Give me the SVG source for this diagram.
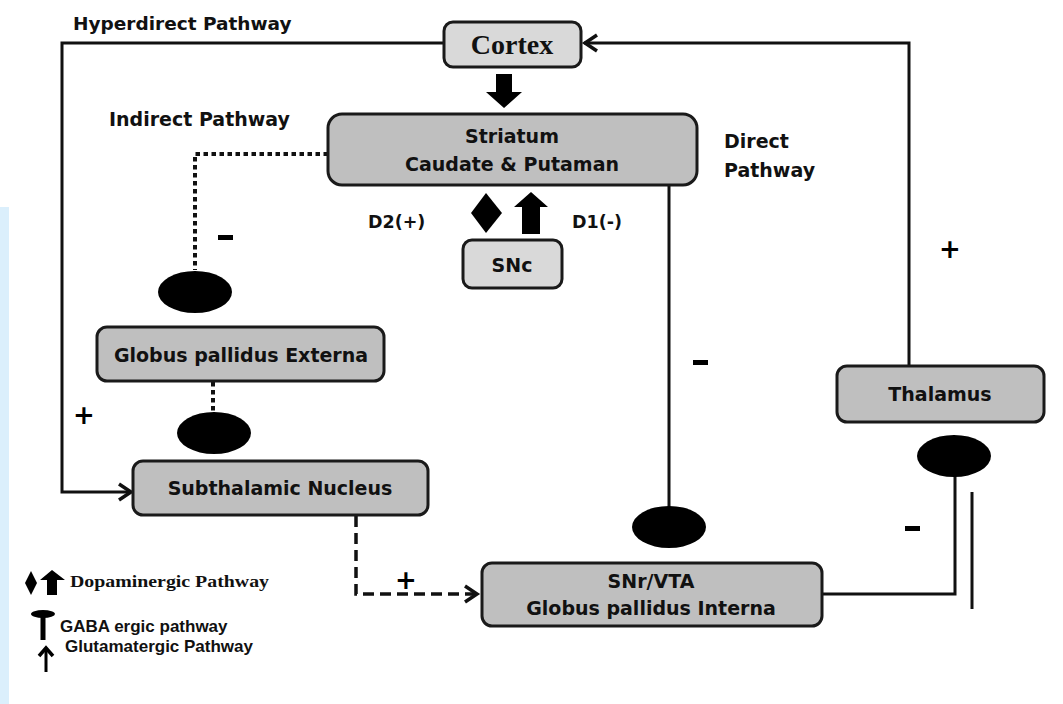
<svg xmlns="http://www.w3.org/2000/svg" width="1063" height="704" viewBox="0 0 1063 704">
<style>
.box{stroke:#1a1a1a;stroke-width:3}
.dark{fill:#bfbfbf}
.light{fill:#d9d9d9}
.lbl{font-family:"DejaVu Sans",Verdana,sans-serif;font-weight:bold;font-size:19px;fill:#111}
.leg{font-family:"Liberation Sans",Arial,sans-serif;font-weight:bold;font-size:17px;fill:#111}
.mid{text-anchor:middle}
.ln{fill:none;stroke:#111;stroke-width:3}
.dot{fill:none;stroke:#111;stroke-width:4;stroke-dasharray:4.5 3.5}
.dash{fill:none;stroke:#111;stroke-width:3.5;stroke-dasharray:11 6}
.chev{fill:none;stroke:#111;stroke-width:3.5;stroke-linejoin:miter}
.blob{fill:#000}
.sign{font-family:"DejaVu Sans",Verdana,sans-serif;font-weight:bold;font-size:26px;fill:#000}
</style>
<rect width="1063" height="704" fill="#fff"/>
<rect x="0" y="207" width="9" height="497" fill="#dbeffc"/>

<g id="connectors">
  <polyline class="ln" points="444,43 62,43 62,492 131,492"/>
  <path class="chev" d="M119,484 L131,492 L119,500"/>
  <polyline class="ln" points="909,366 909,43 584,43"/>
  <path class="chev" d="M597,35 L585,43 L597,51"/>
  <polygon fill="#000" points="496,74 512,74 512,92 522,92 504,108 486,92 496,92"/>
  <polygon fill="#000" points="486,193 502,213 486,233 471,213"/>
  <polygon fill="#000" points="531,192 548,207 540,207 540,234 522,234 522,207 514,207"/>
  <polyline class="dot" points="328,154 195,154 195,270"/>
  <ellipse class="blob" cx="195" cy="292" rx="37" ry="21"/>
  <line class="dot" x1="213" y1="382" x2="213" y2="412"/>
  <ellipse class="blob" cx="214" cy="433" rx="37" ry="21"/>
  <line class="ln" x1="669" y1="185" x2="669" y2="508"/>
  <ellipse class="blob" cx="669" cy="527" rx="37" ry="21"/>
  <polyline class="dash" points="356,516 356,594 474,594"/>
  <path class="chev" d="M465,586 L477,594 L465,602"/>
  <polyline class="ln" points="822,594 955,594 955,470"/>
  <ellipse class="blob" cx="954" cy="456" rx="37" ry="21"/>
  <line class="ln" x1="972" y1="492" x2="972" y2="609"/>
</g>

<g id="cortex">
  <rect class="box light" x="444" y="22" width="137" height="45" rx="9"/>
  <text x="512" y="54" text-anchor="middle" font-family="'Liberation Serif','Times New Roman',serif" font-weight="bold" font-size="28" fill="#111">Cortex</text>
</g>
<g id="striatum">
  <rect class="box dark" x="328" y="114" width="369" height="71" rx="14"/>
  <text class="lbl mid" x="512" y="143">Striatum</text>
  <text class="lbl mid" x="512" y="171">Caudate &amp; Putaman</text>
</g>
<g id="snc">
  <rect class="box light" x="463" y="240" width="99" height="48" rx="9"/>
  <text class="lbl mid" x="512" y="272">SNc</text>
</g>
<g id="gpe">
  <rect class="box dark" x="97" y="327" width="287" height="54" rx="10"/>
  <text class="lbl mid" x="241" y="362">Globus pallidus Externa</text>
</g>
<g id="stn">
  <rect class="box dark" x="133" y="461" width="295" height="54" rx="10"/>
  <text class="lbl mid" x="280" y="495">Subthalamic Nucleus</text>
</g>
<g id="snr">
  <rect class="box dark" x="482" y="563" width="340" height="63" rx="10"/>
  <text class="lbl mid" x="651" y="588">SNr/VTA</text>
  <text class="lbl mid" x="651" y="615">Globus pallidus Interna</text>
</g>
<g id="thalamus">
  <rect class="box dark" x="837" y="366" width="207" height="56" rx="10"/>
  <text class="lbl mid" x="940" y="401">Thalamus</text>
</g>

<g id="labels">
  <text class="lbl" x="73" y="30" style="font-size:18.5px">Hyperdirect Pathway</text>
  <text class="lbl" x="109" y="126">Indirect Pathway</text>
  <text class="lbl" x="724" y="148">Direct</text>
  <text class="lbl" x="724" y="177">Pathway</text>
  <text class="lbl" x="368" y="228" style="font-size:17.5px">D2(+)</text>
  <text class="lbl" x="572" y="228" style="font-size:17.5px">D1(-)</text>
  <rect x="218" y="235" width="15" height="5" fill="#000"/>
  <rect x="693" y="360" width="15" height="5" fill="#000"/>
  <rect x="905" y="526" width="15" height="5" fill="#000"/>
  <text class="sign mid" x="84" y="424">+</text>
  <text class="sign mid" x="950" y="258">+</text>
  <text class="sign mid" x="406" y="589">+</text>
</g>

<g id="legend">
  <polygon fill="#000" points="31,571 37,583 31,595 25,583"/>
  <polygon fill="#000" points="52,570 65,580 57,580 57,595 47,595 47,580 40,580"/>
  <text x="70" y="587" font-family="'Liberation Serif','Times New Roman',serif" font-weight="bold" font-size="17" textLength="199" lengthAdjust="spacingAndGlyphs" fill="#111">Dopaminergic Pathway</text>
  <ellipse cx="43" cy="614" rx="12" ry="4" fill="#000"/>
  <rect x="40.5" y="614" width="5" height="26" fill="#000"/>
  <text class="leg" x="60" y="632">GABA ergic pathway</text>
  <line x1="46" y1="648" x2="46" y2="672" stroke="#000" stroke-width="3"/>
  <path d="M39,656 L46,648 L53,656" fill="none" stroke="#000" stroke-width="3.5"/>
  <text class="leg" x="65" y="652">Glutamatergic Pathway</text>
</g>
</svg>
